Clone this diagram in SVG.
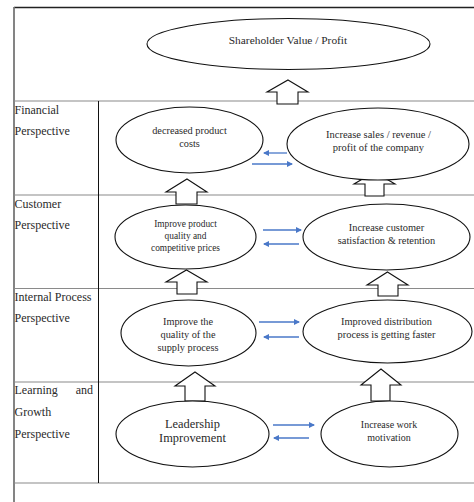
<svg xmlns="http://www.w3.org/2000/svg" width="474" height="502" viewBox="0 0 474 502">
  <style>
    .grid { stroke: #8a8a8a; stroke-width: 1.2; fill: none; }
    .node ellipse { fill: #ffffff; stroke: #111111; stroke-width: 1.1; }
    .node text { fill: #2a2a2a; text-anchor: middle; }
    .label { font-size: 12px; fill: #2a2a2a; }
    .up { fill: #ffffff; stroke: #111111; stroke-width: 1.1; stroke-linejoin: miter; }
    .link { stroke: #4a78c8; stroke-width: 1.3; fill: none; marker-end: url(#head); }
  </style>
  <defs>
    <marker id="head" markerWidth="6" markerHeight="6" refX="5" refY="3" orient="auto" markerUnits="userSpaceOnUse">
      <path d="M0,0 L6,3 L0,6 Z" fill="#4a78c8"/>
    </marker>
  </defs>

  <rect width="474" height="502" fill="#ffffff"/>

  <!-- table frame -->
  <g id="frame">
    <line x1="14" y1="7.5" x2="474" y2="7.5" stroke="#222222" stroke-width="1.6"/>
    <line x1="14" y1="7" x2="14" y2="502" stroke="#777777" stroke-width="1.8"/>
    <line class="grid" x1="14" y1="101" x2="474" y2="101"/>
    <line class="grid" x1="14" y1="195" x2="474" y2="195"/>
    <line class="grid" x1="14" y1="288.5" x2="474" y2="288.5"/>
    <line class="grid" x1="14" y1="382" x2="474" y2="382"/>
    <line class="grid" x1="14" y1="483" x2="474" y2="483"/>
    <line x1="98.5" y1="101" x2="98.5" y2="483" stroke="#111111" stroke-width="1"/>
  </g>

  <g font-family="Liberation Serif, DejaVu Serif, serif">
  <!-- perspective labels -->
  <g id="labels">
    <text class="label" x="14.5" y="114">Financial</text>
    <text class="label" x="14.5" y="135">Perspective</text>
    <text class="label" x="14.5" y="208">Customer</text>
    <text class="label" x="14.5" y="229">Perspective</text>
    <text class="label" x="14.5" y="301">Internal Process</text>
    <text class="label" x="14.5" y="322">Perspective</text>
    <text class="label" x="14.5" y="394">Learning</text>
    <text class="label" x="93" y="394" text-anchor="end">and</text>
    <text class="label" x="14.5" y="416">Growth</text>
    <text class="label" x="14.5" y="438">Perspective</text>
  </g>

  <!-- connectors -->
  <g id="connectors">
    <polygon class="up" points="288,80 308,92 298,92 298,104 277,104 277,92 267,92"/>
    <polygon class="up" points="187,179 207,192 197,192 197,204 176,204 176,192 166,192"/>
    <polygon class="up" points="374.5,172 395,184 384,184 384,196 365,196 365,184 354,184"/>
    <polygon class="up" points="186.5,270 207,282 197,282 197,294 177,294 177,282 166,282"/>
    <polygon class="up" points="387.5,272 408,285 398,285 398,296 378,296 378,285 367,285"/>
    <polygon class="up" points="195,372 215,386 205,386 205,401 185,401 185,386 175,386"/>
    <polygon class="up" points="381,369 401,385 390,385 390,401 371,401 371,385 361,385"/>

    <line class="link" x1="287" y1="153" x2="264" y2="153"/>
    <line class="link" x1="252" y1="164" x2="292" y2="164"/>
    <line class="link" x1="263" y1="230" x2="301" y2="230"/>
    <line class="link" x1="299" y1="244" x2="264" y2="244"/>
    <line class="link" x1="259" y1="322" x2="299" y2="322"/>
    <line class="link" x1="299" y1="337" x2="264" y2="337"/>
    <line class="link" x1="273" y1="425" x2="314" y2="425"/>
    <line class="link" x1="309" y1="438" x2="274" y2="438"/>
  </g>

  <!-- nodes -->
  <g id="shareholder-value" class="node">
    <ellipse cx="288.5" cy="44" rx="141.5" ry="25.5"/>
    <text x="288" y="44" font-size="11.4">Shareholder Value / Profit</text>
  </g>

  <g id="decreased-costs" class="node">
    <ellipse cx="189.5" cy="140" rx="73.5" ry="33"/>
    <text x="189.5" y="133.5" font-size="10.3">decreased product</text>
    <text x="189.5" y="146.5" font-size="10.3">costs</text>
  </g>

  <g id="increase-sales" class="node">
    <ellipse cx="378" cy="144" rx="91" ry="36"/>
    <text x="378.5" y="137.5" font-size="10.5">Increase sales / revenue /</text>
    <text x="378.5" y="150.5" font-size="10.5">profit of the company</text>
  </g>

  <g id="product-quality" class="node">
    <ellipse cx="185.5" cy="237" rx="70.5" ry="32"/>
    <text x="185.5" y="227" font-size="9.4">Improve product</text>
    <text x="185.5" y="238.5" font-size="9.4">quality and</text>
    <text x="185.5" y="250.5" font-size="9.4">competitive prices</text>
  </g>

  <g id="customer-satisfaction" class="node">
    <ellipse cx="386.5" cy="237" rx="83.5" ry="33"/>
    <text x="386.5" y="230.5" font-size="10.4">Increase customer</text>
    <text x="386.5" y="243.5" font-size="10.4">satisfaction &amp; retention</text>
  </g>

  <g id="supply-quality" class="node">
    <ellipse cx="188.5" cy="333" rx="67.5" ry="33"/>
    <text x="188" y="324.5" font-size="10.3">Improve the</text>
    <text x="188" y="337.5" font-size="10.3">quality of the</text>
    <text x="188" y="350.5" font-size="10.3">supply process</text>
  </g>

  <g id="distribution" class="node">
    <ellipse cx="387.5" cy="331.5" rx="84.5" ry="31.5"/>
    <text x="386.5" y="324.5" font-size="10.4">Improved distribution</text>
    <text x="386.5" y="337.5" font-size="10.4">process is getting faster</text>
  </g>

  <g id="leadership" class="node">
    <ellipse cx="192.5" cy="434" rx="76.5" ry="33"/>
    <text x="192.5" y="428" font-size="12.4">Leadership</text>
    <text x="192.5" y="442" font-size="12.4">Improvement</text>
  </g>

  <g id="work-motivation" class="node">
    <ellipse cx="389.5" cy="434" rx="68.5" ry="33"/>
    <text x="389" y="427.5" font-size="10">Increase work</text>
    <text x="389" y="440.5" font-size="10">motivation</text>
  </g>
  </g>
</svg>
